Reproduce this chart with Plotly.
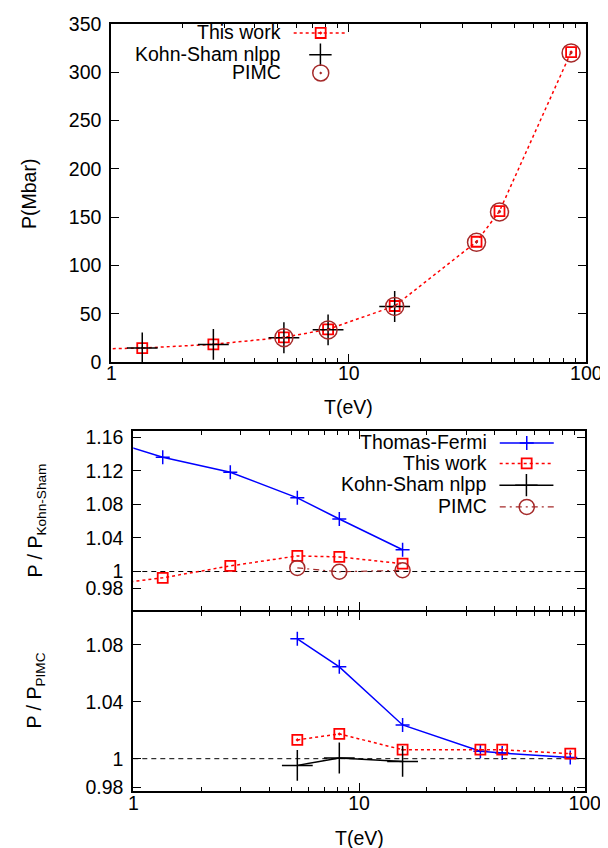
import plotly.graph_objects as go

# ---------------- data ----------------
T_LOW = 0.675                      # point just left of the visible range (line enters at T=1)
T = [1.35, 2.69, 5.33, 8.18, 15.6, 34.5, 43.1, 86.3]

# top panel : P (Mbar)
T_this = [T_LOW] + T
P_this = [13.2, 14.7, 18.6, 25.8, 34.1, 58.2, 124.6, 156.2, 320.7]
T_ks = T[:5]
P_ks = [14.8, 18.5, 25.4, 33.6, 57.7]
T_pimc = T[2:]
P_pimc = [25.5, 33.5, 57.8, 124.0, 155.4, 319.8]

# middle panel : P / P_Kohn-Sham
T_mid = [T_LOW] + T[:5]
TF_over_KS = [1.1615, 1.1361, 1.1183, 1.0878, 1.0626, 1.0259]
This_over_KS = [0.9826, 0.9925, 1.0067, 1.0186, 1.0174, 1.0093]
T_pimc_ks = T[2:5]
PIMC_over_KS = [1.0043, 0.9997, 1.0015]

# bottom panel : P / P_PIMC
T_bot = T[2:]
TF_over_PIMC = [1.0842, 1.0645, 1.0237, 1.0052, 1.0040, 1.0008]
This_over_PIMC = [1.0132, 1.0174, 1.0063, 1.0063, 1.0063, 1.0035]
T_ks_bot = T[2:5]
KS_over_PIMC = [0.9953, 1.0005, 0.9981]

REF = 1.0
X_MAJOR = [1, 10, 100]
X_MINOR = [2, 3, 4, 5, 6, 7, 8, 9, 20, 30, 40, 50, 60, 70, 80, 90]
Y_TOP_TICKS = [0, 50, 100, 150, 200, 250, 300, 350]
Y_MID_TICKS = [0.98, 1.0, 1.04, 1.08, 1.12, 1.16]
Y_MID_TEXT = ["0.98", "1", "1.04", "1.08", "1.12", "1.16"]
Y_BOT_TICKS = [0.98, 1.0, 1.04, 1.08]
Y_BOT_TEXT = ["0.98", "1", "1.04", "1.08"]

# ---------------- style ----------------
W, H = 608, 848
FONT = "Liberation Sans, Arial, Helvetica, sans-serif"
FS = 19.5
RED = "#ff0000"
BLUE = "#0000ff"
BROWN = "#a52a2a"
BLACK = "#000000"


def xd(a, b):
    return [a / W, b / W]


def yd(top, bottom):
    return [1 - bottom / H, 1 - top / H]


fig = go.Figure()

# ---- top panel ----
fig.add_trace(go.Scatter(
    x=T_this, y=P_this, mode="lines+markers", name="", xaxis="x", yaxis="y",
    line=dict(color=RED, width=1.5, dash="dot"),
    marker=dict(symbol="square-open-dot", size=10, color=RED, line=dict(width=1.8, color=RED)),
    legend="legend"))
fig.add_trace(go.Scatter(
    x=T_ks, y=P_ks, mode="markers", name="", xaxis="x", yaxis="y",
    marker=dict(symbol="cross-thin", size=22, color=BLACK, line=dict(width=1.5, color=BLACK)),
    legend="legend2"))
fig.add_trace(go.Scatter(
    x=T_pimc, y=P_pimc, mode="markers", name="", xaxis="x", yaxis="y",
    marker=dict(symbol="circle-open-dot", size=18, color=BROWN, line=dict(width=1.5, color=BROWN)),
    legend="legend3"))

# ---- middle panel ----
fig.add_trace(go.Scatter(
    x=T_mid, y=TF_over_KS, mode="lines+markers", name="", xaxis="x2", yaxis="y2",
    line=dict(color=BLUE, width=1.5),
    marker=dict(symbol="cross-thin", size=10, color=BLUE, line=dict(width=1.5, color=BLUE)),
    legend="legend4"))
fig.add_trace(go.Scatter(
    x=T_mid, y=This_over_KS, mode="lines+markers", name="", xaxis="x2", yaxis="y2",
    line=dict(color=RED, width=1.5, dash="dot"),
    marker=dict(symbol="square-open", size=10, color=RED, line=dict(width=1.8, color=RED)),
    legend="legend5"))
fig.add_trace(go.Scatter(
    x=T_pimc_ks, y=PIMC_over_KS, mode="lines+markers", name="", xaxis="x2", yaxis="y2",
    line=dict(color=BROWN, width=1.2, dash="6px,4px,2px,4px"),
    marker=dict(symbol="circle-open", size=15, color=BROWN, line=dict(width=1.5, color=BROWN)),
    legend="legend7"))

# ---- bottom panel ----
fig.add_trace(go.Scatter(
    x=T_bot, y=TF_over_PIMC, mode="lines+markers", name="Thomas-Fermi", xaxis="x3", yaxis="y3",
    line=dict(color=BLUE, width=1.5),
    marker=dict(symbol="cross-thin", size=10, color=BLUE, line=dict(width=1.5, color=BLUE)),
    showlegend=False))
fig.add_trace(go.Scatter(
    x=T_bot, y=This_over_PIMC, mode="lines+markers", name="This work", xaxis="x3", yaxis="y3",
    line=dict(color=RED, width=1.5, dash="dot"),
    marker=dict(symbol="square-open-dot", size=10, color=RED, line=dict(width=1.8, color=RED)),
    showlegend=False))
fig.add_trace(go.Scatter(
    x=T_ks_bot, y=KS_over_PIMC, mode="lines+markers", name="", xaxis="x3", yaxis="y3",
    line=dict(color=BLACK, width=1.5),
    marker=dict(symbol="cross-thin", size=22, color=BLACK, line=dict(width=1.5, color=BLACK)),
    legend="legend6"))

# reference lines at 1
for xr, yr in (("x2", "y2"), ("x3", "y3")):
    fig.add_shape(type="line", xref=xr + " domain", yref=yr, x0=0, x1=1, y0=REF, y1=REF,
                  line=dict(color=BLACK, width=1, dash="5px,4px"), layer="below")

axis_common = dict(showline=True, linecolor=BLACK, linewidth=2, mirror="ticks",
                   ticks="inside", ticklen=8, tickwidth=1.3, tickcolor=BLACK,
                   showgrid=False, zeroline=False,
                   tickfont=dict(family=FONT, size=FS, color=BLACK))
xminor = dict(tickvals=X_MINOR, ticks="inside", ticklen=4, tickwidth=1.2, tickcolor=BLACK, showgrid=False)

TOP_X = xd(103.3, 578.3)
LOW_X = xd(125.3, 576.7)

fig.update_layout(
    width=W, height=H, margin=dict(l=0, r=0, t=0, b=0, autoexpand=False),
    paper_bgcolor="white", plot_bgcolor="white",
    font=dict(family=FONT, size=FS, color=BLACK),
    xaxis=dict(**axis_common, type="log", range=[0, 2], domain=TOP_X, anchor="y",
               tickmode="array", tickvals=X_MAJOR, ticktext=["1", "10", "100"],
               minor=xminor, ticklabelstandoff=-8),
    yaxis=dict(**axis_common, range=[0, 350], domain=yd(15.7, 354.3), anchor="x",
               tickmode="array", tickvals=Y_TOP_TICKS, ticklabelstandoff=4),
    xaxis2=dict(**axis_common, type="log", range=[0, 2], domain=LOW_X, anchor="y2",
                tickmode="array", tickvals=X_MAJOR, showticklabels=False, minor=xminor),
    yaxis2=dict(**axis_common, range=[0.9538, 1.1671], domain=yd(423.3, 602.3), anchor="x2",
                tickmode="array", tickvals=Y_MID_TICKS, ticktext=Y_MID_TEXT, ticklabelstandoff=4),
    xaxis3=dict(**axis_common, type="log", range=[0, 2], domain=LOW_X, anchor="y3",
                tickmode="array", tickvals=X_MAJOR, ticktext=["1", "10", "100"],
                minor=xminor, ticklabelstandoff=-7),
    yaxis3=dict(**axis_common, range=[0.9771, 1.1028], domain=yd(604.3, 783.3), anchor="x3",
                tickmode="array", tickvals=Y_BOT_TICKS, ticktext=Y_BOT_TEXT, ticklabelstandoff=4),
)


def leg(x_right, y_center, label):
    return dict(x=x_right / W, y=1 - y_center / H, xanchor="right", yanchor="middle",
                bgcolor="rgba(0,0,0,0)", borderwidth=0, itemwidth=54,
                font=dict(family=FONT, size=FS, color=BLACK),
                title=dict(text=label, side="left", font=dict(family=FONT, size=FS, color=BLACK)),
                itemclick=False, itemdoubleclick=False)


fig.update_layout(
    legend=leg(350, 25.3, "This work"),
    legend2=leg(350, 47, "Kohn-Sham nlpp"),
    legend3=leg(350, 65.3, "PIMC"),
    legend4=leg(556, 435.2, "Thomas-Fermi"),
    legend5=leg(556, 455.8, "This work"),
    legend6=leg(556, 477.5, "Kohn-Sham nlpp"),
    legend7=leg(556, 499.2, "PIMC"),
)

ann = dict(xref="paper", yref="paper", showarrow=False, font=dict(family=FONT, size=FS, color=BLACK),
           xanchor="center", yanchor="middle")
fig.add_annotation(text="P(Mbar)", x=21 / W, y=1 - 186 / H, textangle=-90, **ann)
fig.add_annotation(text="T(eV)", x=340.8 / W, y=1 - 399 / H, **ann)
fig.add_annotation(text="P / P<sub>Kohn-Sham</sub>", x=28 / W, y=1 - 512.5 / H, textangle=-90, **ann)
fig.add_annotation(text="P / P<sub>PIMC</sub>", x=27 / W, y=1 - 682.5 / H, textangle=-90, **ann)
fig.add_annotation(text="T(eV)", x=351 / W, y=1 - 830 / H, **ann)

fig.write_html("out.html")
